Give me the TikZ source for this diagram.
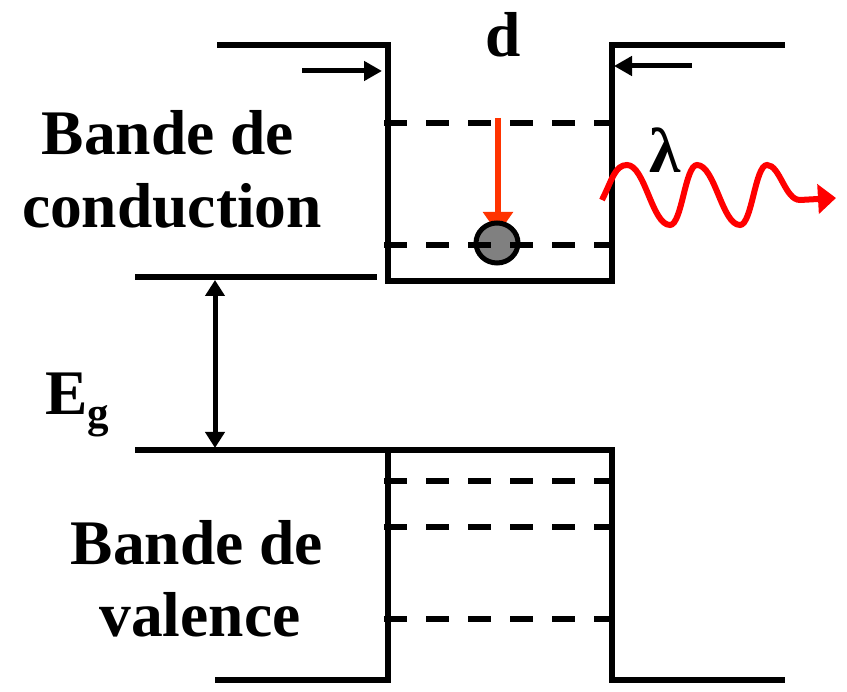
\documentclass[tikz,border=0pt]{standalone}
\usepackage{fontspec}
\setmainfont{Liberation Serif}
\usetikzlibrary{arrows.meta,shapes.geometric}
\definecolor{arrred}{HTML}{FF3300}
\definecolor{wavered}{HTML}{FF0000}
\definecolor{ballgray}{HTML}{808080}
\tikzset{
  band/.style={line width=5.4pt, line join=miter, line cap=butt},
  level/.style={line width=5.4pt, dash pattern=on 23pt off 19pt},
  lbl/.style={inner sep=0pt, font=\fontsize{63.5}{73}\selectfont\bfseries, anchor=base},
  blackarrow/.style={line width=5pt, -{Triangle[length=18pt,width=19pt]}},
}
\begin{document}
\begin{tikzpicture}[x=1pt,y=-1pt]
\useasboundingbox (0,0) rectangle (847,692);
% key coordinates
\coordinate (tl0) at (217,45);
\coordinate (tl1) at (388,45);
\coordinate (wb0) at (388,281);
\coordinate (wb1) at (612,281);
\coordinate (tr0) at (612,45);
\coordinate (tr1) at (785,45);
\coordinate (cb0) at (135,277);
\coordinate (cb1) at (377,277);
\coordinate (vb0) at (135,450);
\coordinate (vb1) at (612,450);
\coordinate (vl) at (388,450);
\coordinate (bl0) at (388,680);
\coordinate (bl1) at (215,680);
\coordinate (br0) at (612,680);
\coordinate (br1) at (785,680);
% conduction band well
\draw[band] (tl0) -- (tl1) -- (wb0) -- (wb1) -- (tr0) -- (tr1);
\draw[band] (cb0) -- (cb1);
% valence band well
\draw[band] (vb0) -- (vb1) -- (br0) -- (br1);
\draw[band] (vl) -- (bl0) -- (bl1);
% d arrows
\coordinate (la0) at (302,71);
\coordinate (la1) at (382,71);
\coordinate (ra0) at (692,66);
\coordinate (ra1) at (614,66);
\draw[blackarrow] (la0) -- (la1);
\draw[blackarrow] (ra0) -- (ra1);
% Eg arrow
\coordinate (eg0) at (215,280);
\coordinate (eg1) at (215,448);
\draw[line width=5pt, {Triangle[length=16pt,width=19pt]}-{Triangle[length=16pt,width=19pt]}] (eg0) -- (eg1);
% red transition arrow
\coordinate (ra) at (498,118);
\coordinate (rb) at (498,234);
\draw[arrred, line width=5.5pt, -{Triangle[length=22pt,width=29pt]}] (ra) -- (rb);
% electron
\node[ellipse, draw=black, fill=ballgray, line width=5pt, minimum width=42pt, minimum height=40pt, inner sep=0pt] (ball) at (497,243) {};
% dashed levels
\coordinate (d1a) at (384,123); \coordinate (d1b) at (612,123);
\coordinate (d2a) at (384,245); \coordinate (d2b) at (612,245);
\coordinate (d3a) at (384,481); \coordinate (d3b) at (612,481);
\coordinate (d4a) at (384,527); \coordinate (d4b) at (612,527);
\coordinate (d5a) at (384,619); \coordinate (d5b) at (612,619);
\draw[level] (d1a) -- (d1b);
\draw[level] (d2a) -- (d2b);
\draw[level] (d3a) -- (d3b);
\draw[level] (d4a) -- (d4b);
\draw[level] (d5a) -- (d5b);
% photon
\coordinate (w0) at (602,200);
\coordinate (wend) at (836,198);
\draw[wavered, line width=6pt, line cap=butt, -{Triangle[length=18pt,width=29pt]}]
  (w0) .. controls (612,180) and (615,165) .. (627,165)
  .. controls (645,165) and (652,225) .. (670,225)
  .. controls (682,225) and (685,165) .. (697,165)
  .. controls (715,165) and (722,225) .. (740,225)
  .. controls (752,225) and (755,165) .. (767,165)
  .. controls (780,165) and (785,200) .. (800,200)
  -- (wend);
% labels
\node[lbl] (bc1) at (168,155) {Bande de};
\node[lbl] (bc2) at (172,228) {conduction};
\node[lbl] (bv1) at (197,565) {Bande de};
\node[lbl] (bv2) at (200,637) {valence};
\node[lbl] (dl) at (503,57) {d};
\node[lbl] (lam) at (665,173) {λ};
\node[lbl, anchor=base west] (eg) at (45,415) {E\raisebox{-13pt}{\fontsize{43}{43}\selectfont g}};
\end{tikzpicture}
\end{document}
